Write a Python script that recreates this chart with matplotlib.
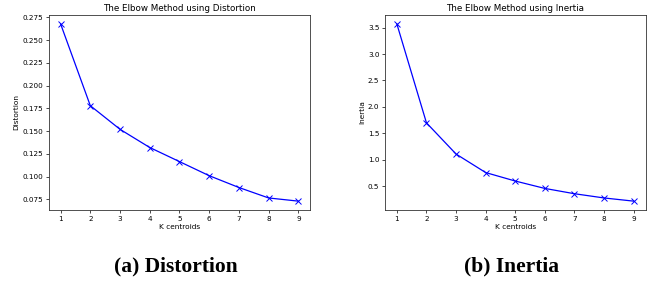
import numpy as np
import matplotlib.pyplot as plt

# elbow method results
k_values = [1, 2, 3, 4, 5, 6, 7, 8, 9]
distortions = [0.268, 0.178, 0.152, 0.132, 0.1165, 0.101, 0.088, 0.0765, 0.073]
inertias = [3.57, 1.70, 1.11, 0.76, 0.60, 0.46, 0.36, 0.28, 0.22]
captions = ["(a) Distortion", "(b) Inertia"]

fig = plt.figure(figsize=(6.51, 2.81), dpi=100)
ax1 = fig.add_axes([48.7 / 651, 1 - 210 / 281, 261.5 / 651, 195 / 281])
ax2 = fig.add_axes([385 / 651, 1 - 210 / 281, 260.5 / 651, 195 / 281])

for ax, vals, ylab, title in [
    (ax1, distortions, "Distortion", "The Elbow Method using Distortion"),
    (ax2, inertias, "Inertia", "The Elbow Method using Inertia"),
]:
    ax.plot(k_values, vals, "bx-", linewidth=0.9, markersize=4, markeredgewidth=0.7)
    ax.set_xlabel("K centroids", fontsize=5.3, labelpad=1.5)
    ax.set_ylabel(ylab, fontsize=5.3, labelpad=2)
    ax.set_title(title, fontsize=6.3, pad=3)
    ax.tick_params(labelsize=5.2, length=2.5, width=0.5, pad=1.5)
    ax.set_xticks(k_values)
    for s in ax.spines.values():
        s.set_linewidth(0.6)
        s.set_color("#333333")

ax1.set_yticks(np.arange(0.075, 0.276, 0.025))
ax2.set_yticks([0.5, 1.0, 1.5, 2.0, 2.5, 3.0, 3.5])

fig.text(176 / 651, 1 - 266 / 281, captions[0], ha="center", va="center",
         fontsize=15.5, fontweight="bold", family="Liberation Serif")
fig.text(512 / 651, 1 - 266 / 281, captions[1], ha="center", va="center",
         fontsize=15.5, fontweight="bold", family="Liberation Serif")

plt.savefig("out.png", dpi=100)
